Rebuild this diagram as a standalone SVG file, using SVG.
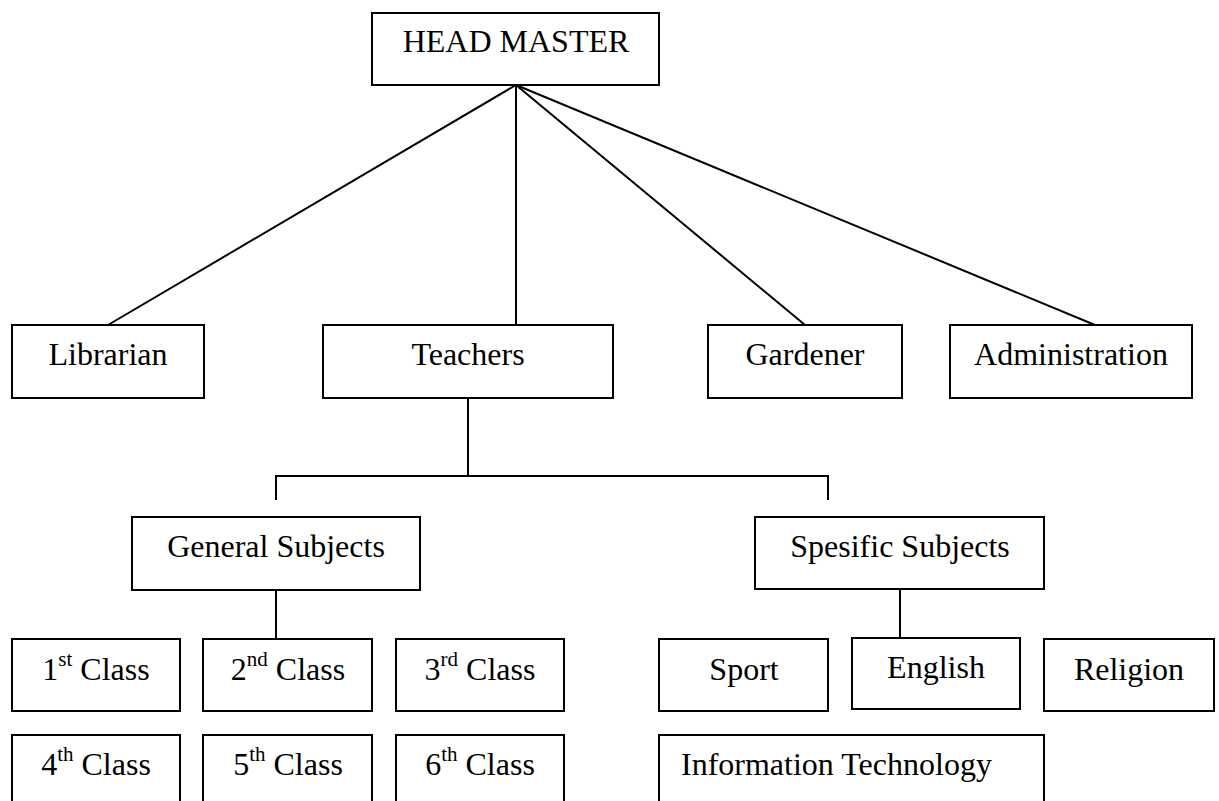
<svg xmlns="http://www.w3.org/2000/svg" width="1219" height="801" viewBox="0 0 1219 801">
<style>
.box{fill:#fff;stroke:#000;stroke-width:2}
.t{font-family:"Liberation Serif","Times New Roman",serif;font-size:32px;fill:#000;text-anchor:middle}
.sup{font-size:21px}
.ln{stroke:#000;stroke-width:2;fill:none}
</style>
<rect width="1219" height="801" fill="#fff"/>
<g id="connectors">
<line class="ln" x1="516" y1="85" x2="108" y2="325"/>
<line class="ln" x1="516" y1="85" x2="516" y2="325"/>
<line class="ln" x1="516" y1="85" x2="805" y2="325"/>
<line class="ln" x1="516" y1="85" x2="1095" y2="325"/>
<polyline class="ln" points="468,398 468,476"/>
<polyline class="ln" points="276,500 276,476 828,476 828,500"/>
<line class="ln" x1="276" y1="590" x2="276" y2="639"/>
<line class="ln" x1="900" y1="589" x2="900" y2="638"/>
</g>
<g id="head"><rect class="box" x="372" y="13" width="287" height="72"/><text class="t" x="516" y="52">HEAD MASTER</text></g>
<g id="librarian"><rect class="box" x="12" y="325" width="192" height="73"/><text class="t" x="108" y="365">Librarian</text></g>
<g id="teachers"><rect class="box" x="323" y="325" width="290" height="73"/><text class="t" x="468" y="365">Teachers</text></g>
<g id="gardener"><rect class="box" x="708" y="325" width="194" height="73"/><text class="t" x="805" y="365">Gardener</text></g>
<g id="administration"><rect class="box" x="950" y="325" width="242" height="73"/><text class="t" x="1071" y="365">Administration</text></g>
<g id="general"><rect class="box" x="132" y="517" width="288" height="73"/><text class="t" x="276" y="557">General Subjects</text></g>
<g id="spesific"><rect class="box" x="755" y="517" width="289" height="72"/><text class="t" x="900" y="557">Spesific Subjects</text></g>
<g id="c1"><rect class="box" x="12" y="639" width="168" height="72"/><text class="t" x="96" y="680">1<tspan class="sup" dy="-14">st</tspan><tspan dy="14"> Class</tspan></text></g>
<g id="c2"><rect class="box" x="203" y="639" width="169" height="72"/><text class="t" x="288" y="680">2<tspan class="sup" dy="-14">nd</tspan><tspan dy="14"> Class</tspan></text></g>
<g id="c3"><rect class="box" x="396" y="639" width="168" height="72"/><text class="t" x="480" y="680">3<tspan class="sup" dy="-14">rd</tspan><tspan dy="14"> Class</tspan></text></g>
<g id="c4"><rect class="box" x="12" y="735" width="168" height="90"/><text class="t" x="96" y="775">4<tspan class="sup" dy="-14">th</tspan><tspan dy="14"> Class</tspan></text></g>
<g id="c5"><rect class="box" x="203" y="735" width="169" height="90"/><text class="t" x="288" y="775">5<tspan class="sup" dy="-14">th</tspan><tspan dy="14"> Class</tspan></text></g>
<g id="c6"><rect class="box" x="396" y="735" width="168" height="90"/><text class="t" x="480" y="775">6<tspan class="sup" dy="-14">th</tspan><tspan dy="14"> Class</tspan></text></g>
<g id="sport"><rect class="box" x="659" y="639" width="169" height="72"/><text class="t" x="744" y="680">Sport</text></g>
<g id="english"><rect class="box" x="852" y="638" width="168" height="71"/><text class="t" x="936" y="678">English</text></g>
<g id="religion"><rect class="box" x="1044" y="639" width="170" height="72"/><text class="t" x="1129" y="680">Religion</text></g>
<g id="it"><rect class="box" x="659" y="735" width="385" height="90"/><text class="t" x="681" y="775" style="text-anchor:start">Information Technology</text></g>
</svg>
